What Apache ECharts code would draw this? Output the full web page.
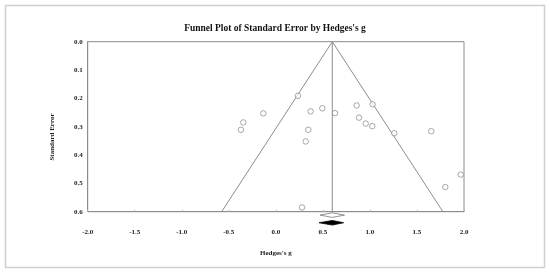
<!DOCTYPE html>
<html>
<head>
<meta charset="utf-8">
<script src="https://cdn.jsdelivr.net/npm/echarts@6/dist/echarts.min.js"></script>
<style>html,body{margin:0;padding:0;background:#fff}#c{width:550px;height:273px}</style>
</head>
<body>
<div id="c"></div>
<script>
// Study effect sizes (Hedges's g) and standard errors
var hedgesG = [0.235, -0.133, -0.346, -0.371, 0.370, 0.494, 0.629, 0.345, 0.317, 0.859, 1.029, 0.884, 0.955, 1.025, 1.259, 1.652, 1.965, 1.801, 0.278];
var stdErr  = [0.191, 0.253, 0.285, 0.311, 0.246, 0.235, 0.252, 0.311, 0.352, 0.225, 0.221, 0.268, 0.289, 0.298, 0.323, 0.316, 0.469, 0.513, 0.585];
// Summary effect (observed and imputed diamonds)
var summaryMean = 0.60;
var observedCI = [0.47, 0.73];
var imputedCI = [0.46, 0.72];
var seMax = 0.6;
var xTickLabels = ['-2.0', '-1.5', '-1.0', '-0.5', '0.0', '0.5', '1.0', '1.5', '2.0'];
var yTickLabels = ['0.0', '0.1', '0.2', '0.3', '0.4', '0.5', '0.6'];

var points = hedgesG.map(function (g, i) { return [g, stdErr[i]]; });
var funnel = [[summaryMean - 1.96 * seMax, seMax], [summaryMean, 0], [summaryMean + 1.96 * seMax, seMax]];
var vline = [[summaryMean, 0], [summaryMean, seMax]];

var serif = '"Liberation Serif", "DejaVu Serif", serif';
var lineGray = '#8c8c8c';

function diamond(yVal, fill, stroke, halfH) {
  return function (params, api) {
    var lo = api.coord([api.value(0), yVal]);
    var mid = api.coord([api.value(1), yVal]);
    var hi = api.coord([api.value(2), yVal]);
    return {
      type: 'polygon',
      shape: { points: [[lo[0], lo[1]], [mid[0], mid[1] - halfH], [hi[0], hi[1]], [mid[0], mid[1] + halfH]] },
      style: { fill: fill, stroke: stroke, lineWidth: 0.8 }
    };
  };
}

var chart = echarts.init(document.getElementById('c'), null, { renderer: 'canvas' });
chart.setOption({
  animation: false,
  backgroundColor: '#fff',
  title: {
    text: "Funnel Plot of Standard Error by Hedges's g",
    left: 'center', top: 19,
    textStyle: { fontFamily: serif, fontWeight: 'bold', fontSize: 9.5, color: '#111' }
  },
  graphic: [
    { type: 'rect', shape: { x: 5.5, y: 5.5, width: 539, height: 262 }, style: { fill: null, stroke: '#cfcfcf', lineWidth: 1.5 }, silent: true },
    { type: 'text', x: 52, y: 137, rotation: Math.PI / 2, style: { text: 'Standard Error', font: 'bold 7px ' + serif, fill: '#222', textAlign: 'center', textVerticalAlign: 'middle' } }
  ],
  grid: { left: 87.7, right: 86, top: 41.7, bottom: 61.3, show: true, borderColor: lineGray, borderWidth: 1, backgroundColor: 'transparent' },
  xAxis: {
    type: 'value', min: -2, max: 2, interval: 0.5,
    name: "Hedges's g", nameLocation: 'middle', nameGap: 38,
    nameTextStyle: { fontFamily: serif, fontWeight: 'bold', fontSize: 7, color: '#222' },
    axisLine: { show: true, onZero: false, lineStyle: { color: lineGray, width: 1 } },
    axisTick: { show: true, inside: true, length: 2, lineStyle: { color: '#bbb' } },
    splitLine: { show: false },
    axisLabel: {
      margin: 17, fontFamily: serif, fontWeight: 'bold', fontSize: 7, color: '#222',
      formatter: function (v) { return xTickLabels[Math.round((v + 2) / 0.5)]; }
    }
  },
  yAxis: {
    type: 'value', inverse: true, min: 0, max: 0.6, interval: 0.1,
    axisLine: { show: true, onZero: false, lineStyle: { color: lineGray, width: 1 } },
    axisTick: { show: false },
    splitLine: { show: false },
    axisLabel: {
      margin: 5, fontFamily: serif, fontWeight: 'bold', fontSize: 7, color: '#222',
      formatter: function (v) { return yTickLabels[Math.round(v / 0.1)]; }
    }
  },
  series: [
    { type: 'line', data: funnel, symbol: 'none', lineStyle: { color: lineGray, width: 1 }, z: 2 },
    { type: 'line', data: vline, symbol: 'none', lineStyle: { color: lineGray, width: 1 }, z: 2 },
    {
      type: 'scatter', data: points, symbol: 'circle', symbolSize: 5.5,
      itemStyle: { color: '#fff', borderColor: '#777', borderWidth: 0.8 }, z: 3
    },
    {
      type: 'custom', clip: false, data: [[observedCI[0], summaryMean, observedCI[1]]],
      encode: { x: [0, 1, 2] }, renderItem: diamond(0.612, '#fff', '#777', 2.3), z: 4
    },
    {
      type: 'custom', clip: false, data: [[imputedCI[0], summaryMean, imputedCI[1]]],
      encode: { x: [0, 1, 2] }, renderItem: diamond(0.639, '#000', '#000', 2.3), z: 4
    }
  ]
});
</script>
</body>
</html>
